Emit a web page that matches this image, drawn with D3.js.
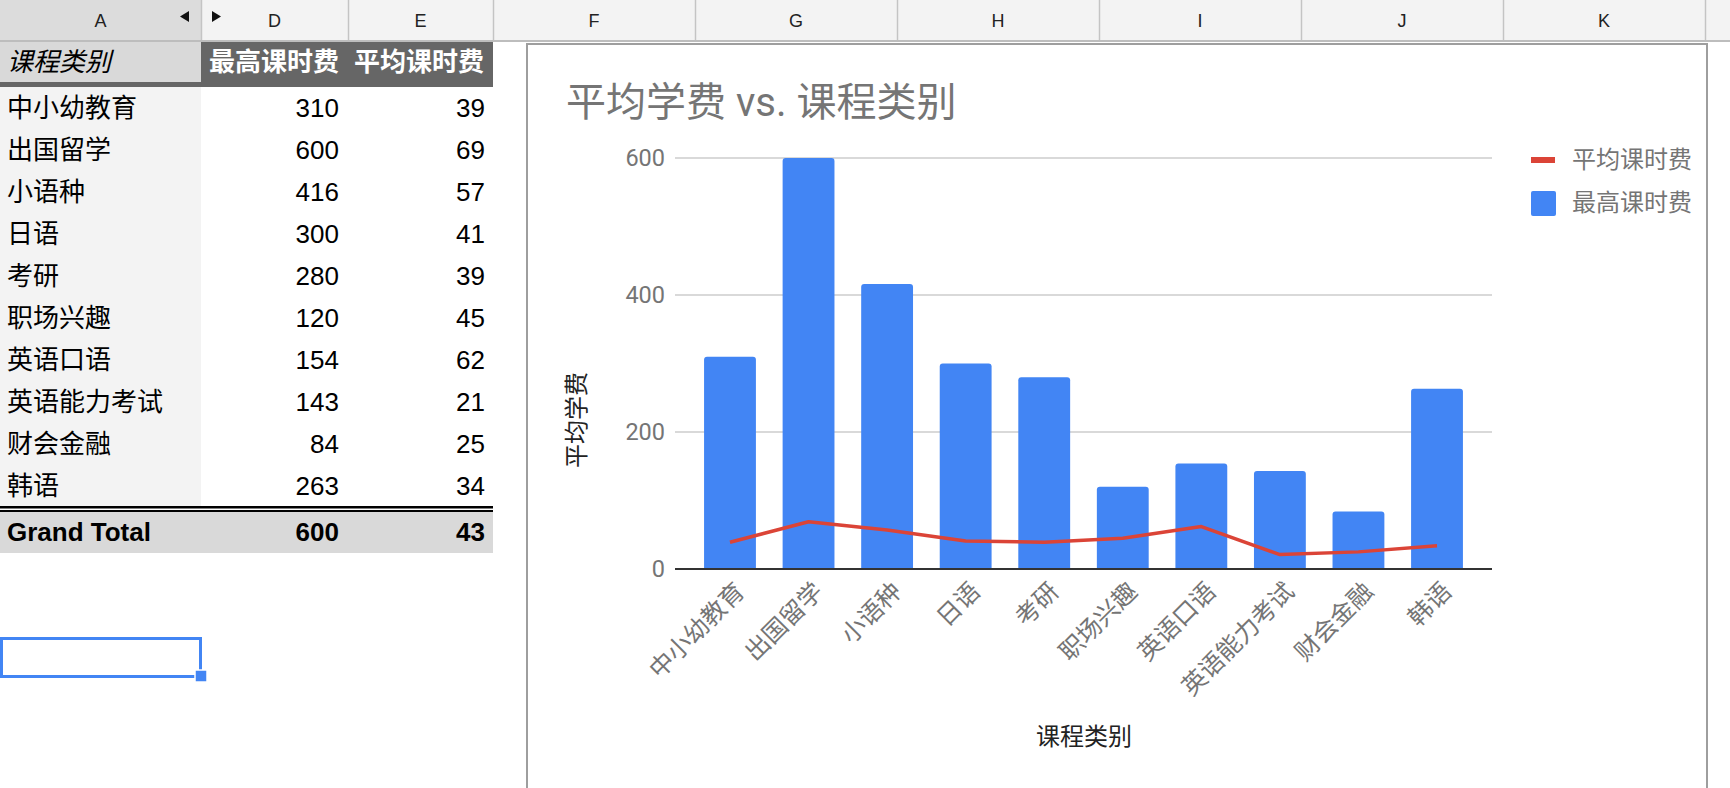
<!DOCTYPE html>
<html><head><meta charset="utf-8">
<script src="https://cdn.jsdelivr.net/npm/d3@7"></script>
<style>
html,body{margin:0;padding:0;background:#fff;overflow:hidden}
svg{display:block}
</style></head><body>
<svg id="c" width="1730" height="788"></svg>
<script>
// ---- data ----
const categories = ["中小幼教育","出国留学","小语种","日语","考研","职场兴趣","英语口语","英语能力考试","财会金融","韩语"];
const maxFee = [310,600,416,300,280,120,154,143,84,263];
const avgFee = [39,69,57,41,39,45,62,21,25,34];
const yTicks = [0,200,400,600];
const colLetters = ["A","D","E","F","G","H","I","J","K"];
const tableHeaders = ["课程类别","最高课时费","平均课时费"];
const grandTotal = ["Grand Total", 600, 43];
const chartTitle = "平均学费 vs. 课程类别";
const xTitle = "课程类别";
const yTitle = "平均学费";
const seriesNames = ["平均课时费","最高课时费"];

// ---- layout ----
const colEdges = [0,201,348,493,695,897,1099,1301,1503,1705,1907];
const sheetFont = "'Liberation Sans', Arial, 'Noto Sans CJK SC', sans-serif";
const chartFont = "Roboto, 'Noto Sans CJK SC', sans-serif";
const svg = d3.select("#c");

// column header bar
svg.append("rect").attr("x",0).attr("y",0).attr("width",1730).attr("height",41).attr("fill","#f3f3f3");
svg.append("rect").attr("x",0).attr("y",0).attr("width",colEdges[1]).attr("height",41).attr("fill","#dcdcdc");
colLetters.forEach((l,i)=>{
  svg.append("text").attr("x",(colEdges[i]+colEdges[i+1])/2).attr("y",21)
    .attr("text-anchor","middle").attr("dominant-baseline","central")
    .attr("font-family",sheetFont).attr("font-size",18).attr("fill","#222").text(l);
});
colEdges.slice(1).forEach(e=>{
  svg.append("line").attr("x1",e+0.5).attr("x2",e+0.5).attr("y1",0).attr("y2",41)
    .attr("stroke","#c4c4c4").attr("stroke-width",1.5);
});
// hidden column arrows
svg.append("path").attr("d","M180,16.5 L189,11 L189,22 Z").attr("fill","#111");
svg.append("path").attr("d","M212,11 L221,16.5 L212,22 Z").attr("fill","#111");
svg.append("line").attr("x1",0).attr("x2",1730).attr("y1",41).attr("y2",41).attr("stroke","#bdbdbd").attr("stroke-width",2);

// ---- pivot table ----
const rowY = d3.scaleBand().domain(d3.range(categories.length)).range([87,507]);
const rowH = rowY.bandwidth();
const fs = 26;
// header row
svg.append("rect").attr("x",0).attr("y",42).attr("width",colEdges[1]).attr("height",41).attr("fill","#d9d9d9");
svg.append("rect").attr("x",colEdges[1]).attr("y",42).attr("width",colEdges[3]-colEdges[1]).attr("height",41).attr("fill","#666");
svg.append("rect").attr("x",0).attr("y",82).attr("width",colEdges[3]).attr("height",5).attr("fill","#666");
svg.append("text").attr("x",7).attr("y",62).attr("dominant-baseline","central")
  .attr("font-family",sheetFont).attr("font-size",fs).attr("font-style","italic").attr("fill","#000").text(tableHeaders[0]);
[1,2].forEach(j=>{
  svg.append("text").attr("x",colEdges[j+1]-9).attr("y",62).attr("text-anchor","end").attr("dominant-baseline","central")
    .attr("font-family",sheetFont).attr("font-size",fs).attr("font-weight","bold").attr("fill","#fff").text(tableHeaders[j]);
});
// body
svg.append("rect").attr("x",0).attr("y",87).attr("width",colEdges[1]).attr("height",420).attr("fill","#f3f3f3");
const rows = svg.append("g").selectAll("g").data(categories).join("g")
  .attr("transform",(d,i)=>`translate(0,${rowY(i)+rowH/2})`)
  .attr("font-family",sheetFont).attr("font-size",fs).attr("fill","#000");
rows.append("text").attr("x",7).attr("dominant-baseline","central").text(d=>d);
rows.append("text").attr("x",colEdges[2]-9).attr("text-anchor","end").attr("dominant-baseline","central").text((d,i)=>maxFee[i]);
rows.append("text").attr("x",colEdges[3]-8).attr("text-anchor","end").attr("dominant-baseline","central").text((d,i)=>avgFee[i]);
// grand total
svg.append("rect").attr("x",0).attr("y",510).attr("width",colEdges[3]).attr("height",43).attr("fill","#d9d9d9");
svg.append("rect").attr("x",0).attr("y",506).attr("width",colEdges[3]).attr("height",2.5).attr("fill","#000");
svg.append("rect").attr("x",0).attr("y",510).attr("width",colEdges[3]).attr("height",2).attr("fill","#000");
const gt = svg.append("g").attr("font-family",sheetFont).attr("font-size",fs).attr("font-weight","bold").attr("fill","#000");
gt.append("text").attr("x",7).attr("y",532).attr("dominant-baseline","central").text(grandTotal[0]);
gt.append("text").attr("x",colEdges[2]-9).attr("y",532).attr("text-anchor","end").attr("dominant-baseline","central").text(grandTotal[1]);
gt.append("text").attr("x",colEdges[3]-8).attr("y",532).attr("text-anchor","end").attr("dominant-baseline","central").text(grandTotal[2]);
// selected cell
svg.append("rect").attr("x",1.5).attr("y",638.5).attr("width",199).attr("height",38).attr("fill","none").attr("stroke","#4285f4").attr("stroke-width",3);
svg.append("rect").attr("x",195).attr("y",670).attr("width",12).attr("height",12).attr("fill","#4285f4").attr("stroke","#fff").attr("stroke-width",1.5);

// ---- chart ----
svg.append("rect").attr("x",527).attr("y",44).attr("width",1180).attr("height",800).attr("fill","#fff").attr("stroke","#9e9e9e").attr("stroke-width",2);
svg.append("text").attr("x",566).attr("y",102).attr("dominant-baseline","central")
  .attr("font-family",chartFont).attr("font-size",40).attr("fill","#757575").text(chartTitle);

const x = d3.scaleBand().domain(categories).range([675,1492]).paddingInner(0.34).paddingOuter(0.37);
const y = d3.scaleLinear().domain([0,600]).range([569,158]);

const grid = svg.append("g");
grid.selectAll("line").data(yTicks.filter(t=>t>0)).join("line")
  .attr("x1",675).attr("x2",1492).attr("y1",d=>y(d)).attr("y2",d=>y(d)).attr("stroke","#cccccc").attr("stroke-width",1.5);
svg.append("g").selectAll("text").data(yTicks).join("text")
  .attr("x",665).attr("y",d=>y(d)).attr("text-anchor","end").attr("dominant-baseline","central")
  .attr("font-family",chartFont).attr("font-size",23.5).attr("fill","#757575").text(d=>d);

const bw = x.bandwidth(), r = 3;
svg.append("g").selectAll("path").data(categories).join("path")
  .attr("fill","#4285f4")
  .attr("d",(c,i)=>{
    const x0 = x(c), x1 = x0+bw, yt = y(maxFee[i]), yb = y(0);
    return `M${x0},${yb} L${x0},${yt+r} Q${x0},${yt} ${x0+r},${yt} L${x1-r},${yt} Q${x1},${yt} ${x1},${yt+r} L${x1},${yb} Z`;
  });
svg.append("line").attr("x1",675).attr("x2",1492).attr("y1",y(0)).attr("y2",y(0)).attr("stroke","#333").attr("stroke-width",2);

const line = d3.line().x((d,i)=>x(categories[i])+bw/2).y(d=>y(d));
svg.append("path").datum(avgFee).attr("d",line).attr("fill","none").attr("stroke","#db4437").attr("stroke-width",3.5).attr("stroke-linejoin","round");

// x tick labels
svg.append("g").selectAll("text").data(categories).join("text")
  .attr("transform",c=>`translate(${x(c)+bw/2+10},587) rotate(-45)`)
  .attr("text-anchor","end").attr("dominant-baseline","central")
  .attr("font-family",chartFont).attr("font-size",24.5).attr("fill","#757575").text(c=>c);

// axis titles
svg.append("text").attr("x",1084).attr("y",737).attr("text-anchor","middle").attr("dominant-baseline","central")
  .attr("font-family",chartFont).attr("font-size",24).attr("fill","#222").text(xTitle);
svg.append("text").attr("transform","translate(577,420) rotate(-90)").attr("text-anchor","middle").attr("dominant-baseline","central")
  .attr("font-family",chartFont).attr("font-size",24).attr("fill","#222").text(yTitle);

// legend
const lg = svg.append("g").attr("font-family",chartFont).attr("font-size",24).attr("fill","#757575");
lg.append("rect").attr("x",1531).attr("y",157).attr("width",24).attr("height",6).attr("fill","#db4437");
lg.append("text").attr("x",1572).attr("y",160).attr("dominant-baseline","central").text(seriesNames[0]);
lg.append("rect").attr("x",1531).attr("y",191).attr("width",25).attr("height",25).attr("rx",2).attr("fill","#4285f4");
lg.append("text").attr("x",1572).attr("y",203).attr("dominant-baseline","central").text(seriesNames[1]);
</script>
</body></html>
